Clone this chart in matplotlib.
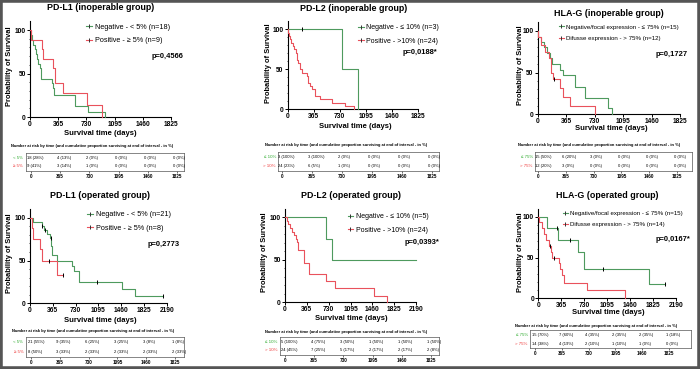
import numpy as np
import matplotlib.pyplot as plt
from matplotlib.lines import Line2D
from matplotlib.patches import Rectangle

plt.rcParams['font.family'] = ['Liberation Sans', 'DejaVu Sans']

W, H = 700, 369
GREEN = '#4e9a5e'
RED = '#e9525c'
TAB_GREEN = '#2eaa2e'
TAB_RED = '#ee3b3b'

# ---- data -------------------------------------------------------------
ticks_inop = [0, 365, 730, 1095, 1460, 1825]
ticks_oper = [0, 365, 730, 1095, 1460, 1825, 2190]
table_ticks = ['0', '365', '730', '1095', '1460', '1825']
risk_header = 'Number at risk by time (and cumulative proportion surviving at end of interval - in %)'

# PD-L1 inoperable
pdl1_inop_neg_t = [0, 10, 25, 40, 60, 75, 95, 110, 125, 140, 280, 300, 310, 580, 745, 965]
pdl1_inop_neg_s = [100, 94, 89, 83, 78, 72, 67, 61, 56, 44, 39, 33, 25, 12.5, 6, 0]
pdl1_inop_neg_c = []
pdl1_inop_pos_t = [0, 15, 160, 170, 300, 320, 430, 735, 930]
pdl1_inop_pos_s = [100, 89, 78, 67, 56, 39, 28, 14, 0]
pdl1_inop_pos_c = []
pdl1_inop_labels = ['Negative - < 5% (n=18)', 'Positive - \u2265 5% (n=9)']
pdl1_inop_p = 'p=0,4566'
pdl1_inop_rows = ['< 5%', '\u2265 5%']
pdl1_inop_risk_neg = ['18 (28%)', '4 (13%)', '2 (0%)', '0 (0%)', '0 (0%)', '0 (0%)']
pdl1_inop_risk_pos = ['9 (41%)', '3 (14%)', '1 (0%)', '0 (0%)', '0 (0%)', '0 (0%)']

# PD-L2 inoperable
pdl2_inop_neg_t = [0, 760, 985]
pdl2_inop_neg_s = [100, 50, 0]
pdl2_inop_neg_c = [200]
pdl2_inop_pos_t = [0, 10, 20, 35, 50, 70, 90, 110, 130, 150, 170, 200, 270, 290, 310, 340, 380, 460, 620, 800, 935]
pdl2_inop_pos_s = [100, 96, 92, 88, 83, 79, 75, 71, 62, 58, 50, 46, 42, 33, 29, 25, 17, 13, 8, 4, 0]
pdl2_inop_pos_c = []
pdl2_inop_labels = ['Negative - \u2264 10% (n=3)', 'Positive - >10% (n=24)']
pdl2_inop_p = 'p=0,0188*'
pdl2_inop_rows = ['\u2264 10%', '> 10%']
pdl2_inop_risk_neg = ['3 (100%)', '3 (100%)', '2 (0%)', '0 (0%)', '0 (0%)', '0 (0%)']
pdl2_inop_risk_pos = ['24 (23%)', '6 (5%)', '1 (0%)', '0 (0%)', '0 (0%)', '0 (0%)']

# HLA-G inoperable
hlag_inop_neg_t = [0, 10, 40, 80, 120, 160, 180, 290, 320, 480, 610, 900, 950]
hlag_inop_neg_s = [100, 93, 87, 80, 73, 67, 60, 53, 47, 33, 20, 7, 0]
hlag_inop_neg_c = []
hlag_inop_pos_t = [0, 10, 40, 100, 150, 175, 190, 280, 320, 420, 735]
hlag_inop_pos_s = [100, 92, 83, 75, 67, 50, 42, 31, 21, 10, 0]
hlag_inop_pos_c = [215]
hlag_inop_labels = ['Negative/focal expression - \u2264 75% (n=15)', 'Difusse expression - > 75% (n=12)']
hlag_inop_p = 'p=0,1727'
hlag_inop_rows = ['\u2264 75%', '> 75%']
hlag_inop_risk_neg = ['15 (50%)', '6 (20%)', '3 (0%)', '0 (0%)', '0 (0%)', '0 (0%)']
hlag_inop_risk_pos = ['12 (20%)', '3 (0%)', '0 (0%)', '0 (0%)', '0 (0%)', '0 (0%)']

# PD-L1 operated
pdl1_oper_neg_t = [0, 53, 190, 230, 267, 320, 335, 350, 427, 668, 710, 790, 1469, 1683, 2137]
pdl1_oper_neg_s = [100, 95, 90, 86, 81, 76, 67, 57, 50, 44, 38, 25, 17, 8, 8]
pdl1_oper_neg_c = [198, 240, 331, 1068, 2137]
pdl1_oper_pos_t = [0, 37, 53, 160, 198, 427, 534]
pdl1_oper_pos_s = [100, 88, 75, 63, 50, 33, 33]
pdl1_oper_pos_c = [310, 534]
pdl1_oper_labels = ['Negative - < 5% (n=21)', 'Positive - \u2265 5% (n=8)']
pdl1_oper_p = 'p=0,2773'
pdl1_oper_rows = ['< 5%', '\u2265 5%']
pdl1_oper_risk_neg = ['21 (55%)', '9 (35%)', '6 (25%)', '3 (25%)', '3 (8%)', '1 (8%)']
pdl1_oper_risk_pos = ['8 (50%)', '3 (33%)', '2 (33%)', '2 (33%)', '2 (33%)', '2 (33%)']

# PD-L2 operated
pdl2_oper_neg_t = [0, 685, 780, 2190]
pdl2_oper_neg_s = [100, 75, 50, 50]
pdl2_oper_neg_c = []
pdl2_oper_pos_t = [0, 28, 56, 84, 123, 156, 178, 200, 223, 310, 320, 400, 680, 835, 1490, 1700]
pdl2_oper_pos_s = [100, 96, 92, 88, 83, 79, 75, 71, 62, 54, 46, 33, 25, 17, 8, 0]
pdl2_oper_pos_c = []
pdl2_oper_labels = ['Negative - \u2264 10% (n=5)', 'Positive - >10% (n=24)']
pdl2_oper_p = 'p=0,0393*'
pdl2_oper_rows = ['\u2264 10%', '> 10%']
pdl2_oper_risk_neg = ['5 (100%)', '4 (75%)', '3 (50%)', '1 (50%)', '1 (50%)', '1 (50%)']
pdl2_oper_risk_pos = ['24 (45%)', '7 (25%)', '5 (17%)', '2 (17%)', '2 (17%)', '2 (8%)']

# HLA-G operated
hlag_oper_neg_t = [0, 143, 310, 320, 636, 726, 1766, 2015]
hlag_oper_neg_s = [100, 86, 79, 71, 57, 36, 18, 18]
hlag_oper_neg_c = [302, 504, 1023, 2015]
hlag_oper_pos_t = [0, 15, 53, 90, 122, 175, 196, 223, 329, 345, 380, 408, 769, 1379]
hlag_oper_pos_s = [100, 93, 86, 79, 71, 64, 57, 50, 43, 36, 29, 19, 10, 0]
hlag_oper_pos_c = [186, 249]
hlag_oper_labels = ['Negative/focal expression - \u2264 75% (n=15)', 'Difusse expression - > 75% (n=14)']
hlag_oper_p = 'p=0,0167*'
hlag_oper_rows = ['\u2264 75%', '> 75%']
hlag_oper_risk_neg = ['15 (70%)', '7 (60%)', '4 (35%)', '2 (35%)', '2 (35%)', '1 (18%)']
hlag_oper_risk_pos = ['14 (38%)', '4 (19%)', '2 (10%)', '1 (10%)', '1 (0%)', '0 (0%)']

panels = [
    ('PD-L1 (inoperable group)', ticks_inop,
     [(pdl1_inop_neg_t, pdl1_inop_neg_s, pdl1_inop_neg_c), (pdl1_inop_pos_t, pdl1_inop_pos_s, pdl1_inop_pos_c)],
     pdl1_inop_labels, pdl1_inop_p, pdl1_inop_rows, [pdl1_inop_risk_neg, pdl1_inop_risk_pos]),
    ('PD-L2 (inoperable group)', ticks_inop,
     [(pdl2_inop_neg_t, pdl2_inop_neg_s, pdl2_inop_neg_c), (pdl2_inop_pos_t, pdl2_inop_pos_s, pdl2_inop_pos_c)],
     pdl2_inop_labels, pdl2_inop_p, pdl2_inop_rows, [pdl2_inop_risk_neg, pdl2_inop_risk_pos]),
    ('HLA-G (inoperable group)', ticks_inop,
     [(hlag_inop_neg_t, hlag_inop_neg_s, hlag_inop_neg_c), (hlag_inop_pos_t, hlag_inop_pos_s, hlag_inop_pos_c)],
     hlag_inop_labels, hlag_inop_p, hlag_inop_rows, [hlag_inop_risk_neg, hlag_inop_risk_pos]),
    ('PD-L1 (operated group)', ticks_oper,
     [(pdl1_oper_neg_t, pdl1_oper_neg_s, pdl1_oper_neg_c), (pdl1_oper_pos_t, pdl1_oper_pos_s, pdl1_oper_pos_c)],
     pdl1_oper_labels, pdl1_oper_p, pdl1_oper_rows, [pdl1_oper_risk_neg, pdl1_oper_risk_pos]),
    ('PD-L2 (operated group)', ticks_oper,
     [(pdl2_oper_neg_t, pdl2_oper_neg_s, pdl2_oper_neg_c), (pdl2_oper_pos_t, pdl2_oper_pos_s, pdl2_oper_pos_c)],
     pdl2_oper_labels, pdl2_oper_p, pdl2_oper_rows, [pdl2_oper_risk_neg, pdl2_oper_risk_pos]),
    ('HLA-G (operated group)', ticks_oper,
     [(hlag_oper_neg_t, hlag_oper_neg_s, hlag_oper_neg_c), (hlag_oper_pos_t, hlag_oper_pos_s, hlag_oper_pos_c)],
     hlag_oper_labels, hlag_oper_p, hlag_oper_rows, [hlag_oper_risk_neg, hlag_oper_risk_pos]),
]

# ---- layout (pixels) ----------------------------------------------------
# ax: x of first tick, x of last tick, y of 0, y of 100
layout = [
    dict(ax=(30, 171, 117, 30), title=(100.5, 7), ylab=(10, 66), xlab=(100.8, 133), leg=(86, 34), legfs=5.2, p=(183, 57),
         tab=(25.7, 184.3, 153, 170.5), tk=(31, 177), head=(11, 146)),
    dict(ax=(287.7, 417.7, 109.3, 29.3), title=(354, 8.3), ylab=(268, 63), xlab=(355, 126), leg=(358, 34.5), legfs=5.0, p=(437, 52),
         tab=(278.3, 438.7, 152.3, 170.5), tk=(281.7, 431.7), head=(265, 144.5)),
    dict(ax=(537.7, 680, 114.3, 30.7), title=(608.5, 13.3), ylab=(520, 65), xlab=(611, 128.5), leg=(559, 32.5), legfs=4.4, p=(688, 54.3),
         tab=(535, 692, 151.7, 170.5), tk=(538, 677), head=(518, 144.7)),
    dict(ax=(30, 166.7, 303.3, 217.7), title=(100, 195), ylab=(10, 253), xlab=(100, 320), leg=(87, 221.5), legfs=5.2, p=(180, 244.3),
         tab=(25.7, 184.3, 337, 357.3), tk=(31, 175), head=(12, 331)),
    dict(ax=(285, 416, 302.3, 217.3), title=(351, 195), ylab=(265, 252), xlab=(351, 319), leg=(347.5, 223.3), legfs=5.0, p=(439, 242.3),
         tab=(280, 439, 336.7, 355.3), tk=(285, 431), head=(265, 331.7)),
    dict(ax=(538.3, 676, 298.3, 216.7), title=(607, 195.7), ylab=(520.7, 252), xlab=(608, 313), leg=(563, 219), legfs=4.4, p=(690, 239.3),
         tab=(530, 690.7, 330, 348.3), tk=(535, 669), head=(515, 325.7)),
]

YTOP = 110


def fx(x):
    return x / W


def fy(y):
    return 1 - y / H


fig = plt.figure(figsize=(7, 3.69), dpi=100)

for (title, xt, curves, labels, ptxt, rows, risk), lo in zip(panels, layout):
    x0, x1, y0, y100 = lo['ax']
    ytop = y0 - (y0 - y100) * YTOP / 100
    ax = fig.add_axes([fx(x0), fy(y0), (x1 - x0) / W, (y0 - ytop) / H])
    ax.set_xlim(0, xt[-1])
    ax.set_ylim(0, YTOP)
    handles = []
    for (t, s, c), col in zip(curves, [GREEN, RED]):
        t = np.asarray(t, float)
        s = np.asarray(s, float)
        ax.step(t, s, where='post', color=col, lw=0.8, clip_on=False, zorder=3)
        if len(c):
            idx = np.searchsorted(t, c, side='right') - 1
            ax.plot(c, s[idx], ls='none', marker='|', ms=2.5, mew=0.7, color='black', clip_on=False, zorder=4)
        handles.append(Line2D([], [], color=col, lw=0.8, marker='|', ms=2.5, mew=0.7, mec='#333333'))
    ax.set_xticks(xt)
    ax.set_yticks([0, 50, 100])
    ax.set_yticks(np.arange(0, 101, 10), minor=True)
    for sp in ['top', 'right']:
        ax.spines[sp].set_visible(False)
    for sp in ['left', 'bottom']:
        ax.spines[sp].set_linewidth(0.8)
    ax.spines['left'].set_bounds(0, YTOP)
    ax.tick_params(axis='both', which='major', length=2, width=0.7, pad=1, labelsize=4.8)
    ax.tick_params(axis='y', which='minor', length=1, width=0.5)
    for lab in ax.get_xticklabels() + ax.get_yticklabels():
        lab.set_fontweight('bold')

    fig.text(fx(lo['title'][0]), fy(lo['title'][1]), title, ha='center', va='center', fontsize=6.4, fontweight='bold')
    fig.text(fx(lo['ylab'][0]), fy(lo['ylab'][1]), 'Probability of Survival', rotation=90, ha='center', va='center',
             fontsize=5.4, fontweight='bold')
    fig.text(fx(lo['xlab'][0]), fy(lo['xlab'][1]), 'Survival time (days)', ha='center', va='center',
             fontsize=5.5, fontweight='bold')
    fs = lo['legfs']
    ax.legend(handles, labels, loc='center left', bbox_to_anchor=(fx(lo['leg'][0]), fy(lo['leg'][1])),
              bbox_transform=fig.transFigure, frameon=False, fontsize=fs, handlelength=0.8, handletextpad=0.4,
              labelspacing=0.95, borderpad=0, borderaxespad=0)
    fig.text(fx(lo['p'][0]), fy(lo['p'][1]), ptxt, ha='right', va='center', fontsize=5.4, fontweight='bold')

    # risk table
    bl, br, bt, bb = lo['tab']
    t0, t5 = lo['tk']
    unit = (t5 - t0) / 5
    tax = fig.add_axes([fx(bl), fy(bb), (br - bl) / W, (bb - bt) / H])
    tax.set_xlim(-(t0 - bl) / unit, 5 + (br - t5) / unit)
    tax.set_ylim(0, 1)
    tax.set_yticks([])
    tax.set_xticks(range(6))
    tax.set_xticklabels(table_ticks, fontsize=3.3, fontweight='bold')
    tax.tick_params(axis='x', length=1.2, width=0.4, pad=1)
    for sp in tax.spines.values():
        sp.set_linewidth(0.5)
        sp.set_color('#555555')
    for r, (vals, yy) in enumerate(zip(risk, [0.74, 0.26])):
        for i, v in enumerate(vals):
            tax.text(i - 0.12, yy, v, ha='left', va='center', fontsize=3.0)
        tax.text(-(t0 - bl) / unit - 0.08, yy, rows[r], ha='right', va='center', fontsize=3.2,
                 color=[TAB_GREEN, TAB_RED][r])
    fig.text(fx(lo['head'][0]), fy(lo['head'][1]), risk_header, ha='left', va='center', fontsize=2.9, fontweight='bold')

# grey frame round the figure
fig.patches.append(Rectangle((0, 0), 1, 1, transform=fig.transFigure, fill=False, edgecolor='#555555', lw=4))

fig.savefig('out.png', dpi=100)
